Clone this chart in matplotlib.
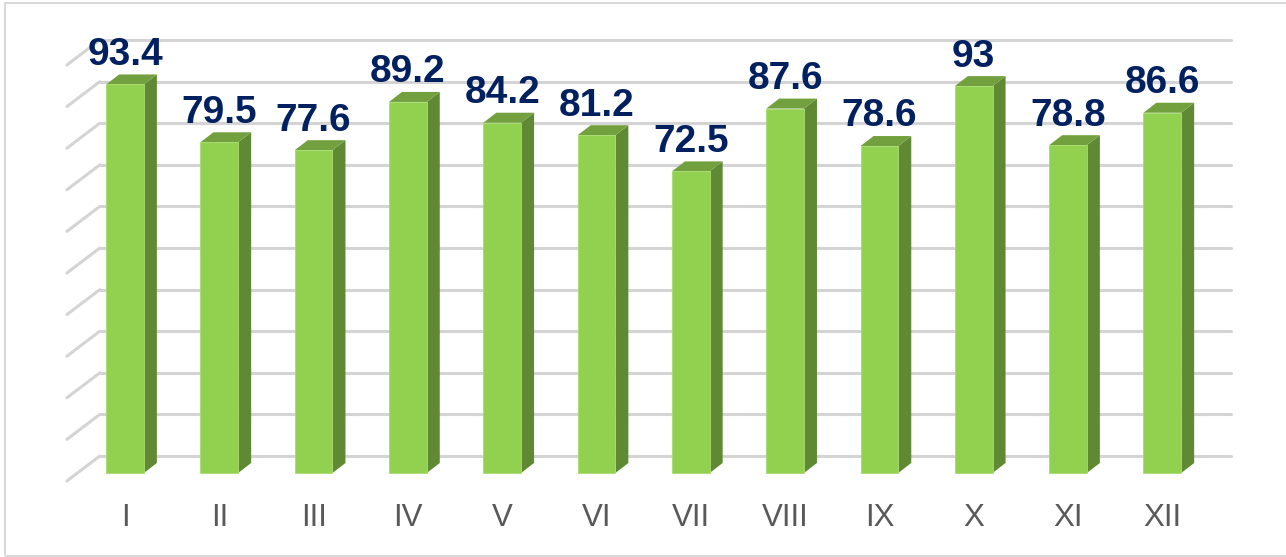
import matplotlib.pyplot as plt
from matplotlib.patches import Polygon, Rectangle

# data
months = ['I', 'II', 'III', 'IV', 'V', 'VI', 'VII', 'VIII', 'IX', 'X', 'XI', 'XII']
values = [93.4, 79.5, 77.6, 89.2, 84.2, 81.2, 72.5, 87.6, 78.6, 93, 78.8, 86.6]
grid_values = list(range(0, 101, 10))

# pixel scale of the original picture
PX_CAT = 94.3      # px between bars
PX_VAL = 4.16      # px per unit of value
W, H = 1286, 557

fig = plt.figure(figsize=(W / 100, H / 100), dpi=100)
ax = fig.add_axes([0, 0, 1, 1])
x0, y0 = 125, 473  # pixel of category 0 / value 0 on the front plane
ax.set_xlim(-x0 / PX_CAT, (W - x0) / PX_CAT)
ax.set_ylim(-(H - y0) / PX_VAL, y0 / PX_VAL)
ax.axis('off')

def off(dx_px, dy_px):
    # pixel offset -> data offset (dy positive = up)
    return dx_px / PX_CAT, dy_px / PX_VAL

# 3D geometry
half = 0.2
bdx, bdy = off(13, 10)       # bar depth
wdx, wdy = off(22, 17)       # back wall offset from front plane
fdx, fdy = off(-33, -25)     # floor diagonal from wall to front
grid_col = '#d4d4d4'

# back wall gridlines and floor diagonals
for g in grid_values:
    yw = g + wdy
    xl = -0.5 + wdx
    xr = 11.5 + wdx
    ax.plot([xl, xr], [yw, yw], color=grid_col, lw=2.2, solid_capstyle='round', zorder=1)
    ax.plot([xl + fdx, xl], [yw + fdy, yw], color=grid_col, lw=2.2, solid_capstyle='round', zorder=1)

front_col = '#92d050'
side_col = '#5f8a33'
top_col = '#72a03e'

for i, v in enumerate(values):
    xl, xr = i - half, i + half
    ax.add_patch(Polygon([(xr, 0), (xr + bdx, bdy), (xr + bdx, v + bdy), (xr, v)],
                         closed=True, fc=side_col, ec='none', zorder=3))
    ax.add_patch(Polygon([(xl, v), (xr, v), (xr + bdx, v + bdy), (xl + bdx, v + bdy)],
                         closed=True, fc=top_col, ec='none', zorder=3))
    ax.add_patch(Rectangle((xl, 0), xr - xl, v, fc=front_col, ec='#a8dc70', lw=0.6, zorder=4))
    lbl = f'{v:g}'
    ax.text(i, v + bdy + 2.3, lbl, ha='center', va='baseline',
            fontsize=28, fontweight='bold', color='#002060',
            family=['Liberation Sans', 'DejaVu Sans'], zorder=5)
    ax.text(i, -10.7, months[i], ha='center', va='center',
            fontsize=22.5, color='#595959',
            family=['Liberation Sans', 'DejaVu Sans'], zorder=5)

# chart frame
fig.patches.append(Rectangle((5 / W, 1 - 556 / H), 1.2, (556 - 3) / H,
                             transform=fig.transFigure, fill=False,
                             ec='#d9d9d9', lw=1.5))

fig.savefig('out.png', dpi=100, facecolor='white')
